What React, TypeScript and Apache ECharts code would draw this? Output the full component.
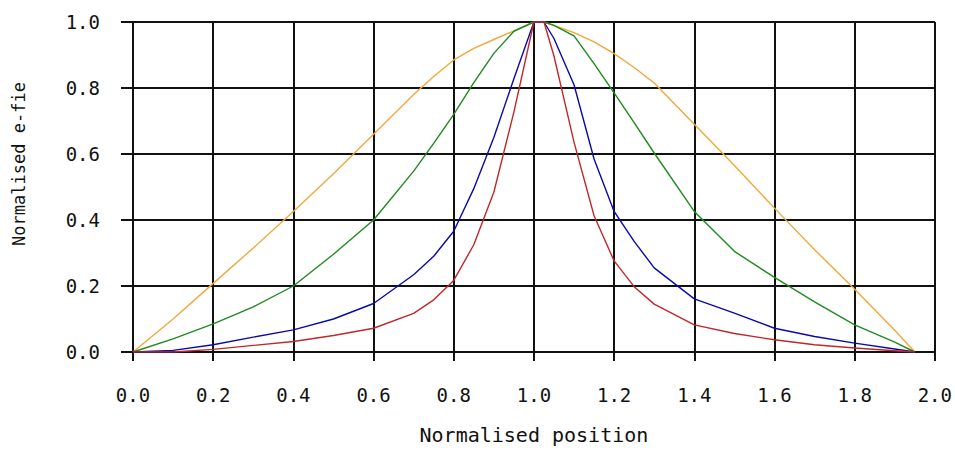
import React, { useEffect, useRef } from "react";
import * as echarts from "echarts";

const positions = [0, 0.1, 0.2, 0.3, 0.4, 0.5, 0.6, 0.7, 0.75, 0.8, 0.85, 0.9, 0.95, 1.0, 1.025, 1.05, 1.1, 1.15, 1.2, 1.25, 1.3, 1.4, 1.5, 1.6, 1.7, 1.8, 1.9, 1.95];

const orangeValues = [0, 0.1, 0.208, 0.315, 0.426, 0.54, 0.66, 0.78, 0.835, 0.885, 0.92, 0.947, 0.973, 1.0, 1.0, 0.99, 0.968, 0.94, 0.904, 0.862, 0.815, 0.69, 0.565, 0.436, 0.31, 0.19, 0.066, 0];
const greenValues = [0, 0.04, 0.085, 0.137, 0.2, 0.296, 0.4, 0.548, 0.632, 0.72, 0.816, 0.905, 0.972, 1.0, 1.0, 0.99, 0.958, 0.874, 0.785, 0.695, 0.603, 0.426, 0.305, 0.226, 0.152, 0.082, 0.03, 0];
const blueValues = [0, 0.005, 0.022, 0.045, 0.067, 0.1, 0.147, 0.234, 0.29, 0.366, 0.495, 0.65, 0.828, 1.0, 1.0, 0.95, 0.81, 0.585, 0.426, 0.335, 0.255, 0.161, 0.118, 0.072, 0.047, 0.027, 0.009, 0];
const redValues = [0, 0.0, 0.008, 0.02, 0.032, 0.05, 0.072, 0.117, 0.158, 0.217, 0.325, 0.484, 0.727, 1.0, 1.0, 0.897, 0.636, 0.413, 0.276, 0.198, 0.145, 0.082, 0.056, 0.037, 0.022, 0.012, 0.004, 0];

const seriesNames = ["Orange", "Green", "Blue", "Red"];
const seriesColors = ["#f2a83a", "#1f8a1f", "#0a0aa8", "#c02828"];
const seriesValues = [orangeValues, greenValues, blueValues, redValues];

const xTitle = "Normalised position";
const yTitle = "Normalised e-fie";

export default function App() {
  const ref = useRef<HTMLDivElement>(null);
  useEffect(() => {
    if (!ref.current) return;
    const chart = echarts.init(ref.current, null, { renderer: "svg" });
    const labelFont = "DejaVu Sans Mono";
    chart.setOption({
      animation: false,
      backgroundColor: "#ffffff",
      grid: { left: 133, right: 18, top: 22, bottom: 94 },
      xAxis: {
        type: "value",
        min: 0,
        max: 2,
        interval: 0.2,
        name: xTitle,
        nameLocation: "middle",
        nameGap: 73,
        nameTextStyle: { fontFamily: labelFont, fontSize: 20, color: "#111" },
        axisLine: { show: true, lineStyle: { color: "#111", width: 2 } },
        axisTick: { show: true, inside: false, length: 9, lineStyle: { color: "#111", width: 2 } },
        axisLabel: {
          margin: 33,
          fontFamily: labelFont,
          fontSize: 19,
          color: "#111",
          formatter: (v: number) => v.toFixed(1),
        },
        splitLine: { show: true, lineStyle: { color: "#111", width: 2 } },
      },
      yAxis: {
        type: "value",
        min: 0,
        max: 1,
        interval: 0.2,
        name: yTitle,
        nameLocation: "middle",
        nameGap: 106,
        nameTextStyle: { fontFamily: labelFont, fontSize: 17, color: "#111", padding: [0, 0, 0, 46] },
        axisLine: { show: true, lineStyle: { color: "#111", width: 2 } },
        axisTick: { show: true, inside: false, length: 12, lineStyle: { color: "#111", width: 2 } },
        axisLabel: {
          margin: 33,
          fontFamily: labelFont,
          fontSize: 19,
          color: "#111",
          formatter: (v: number) => v.toFixed(1),
        },
        splitLine: { show: true, lineStyle: { color: "#111", width: 2 } },
      },
      series: seriesNames.map((name, i) => ({
        name,
        type: "line",
        data: positions.map((x, j) => [x, seriesValues[i][j]]),
        showSymbol: false,
        symbol: "none",
        lineStyle: { color: seriesColors[i], width: 1.4 },
        itemStyle: { color: seriesColors[i] },
        z: 3,
      })),
    });
    return () => chart.dispose();
  }, []);
  return <div ref={ref} style={{ width: 955, height: 450, position: "absolute", left: 0, top: 0 }} />;
}
